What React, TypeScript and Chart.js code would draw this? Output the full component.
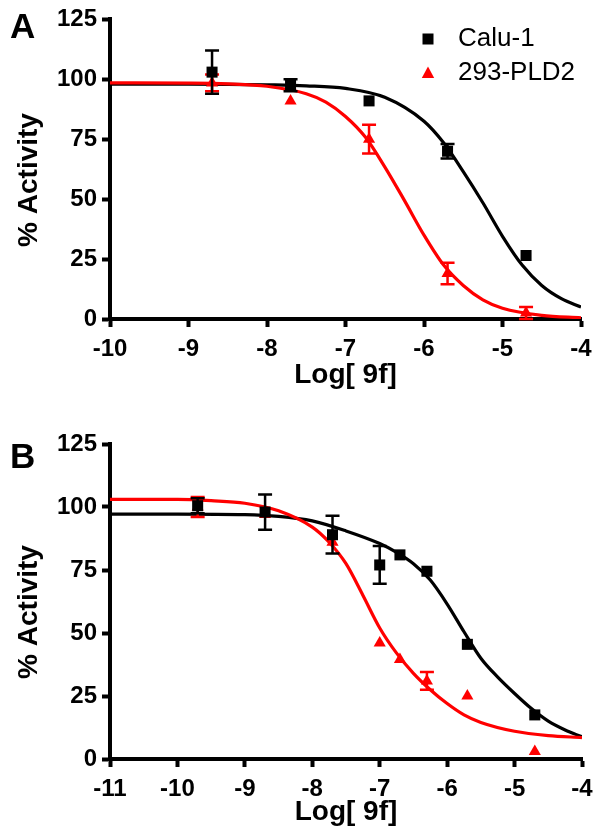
import React, { useEffect, useRef } from 'react';
import { Chart, registerables } from 'chart.js';

Chart.register(...registerables);

const FONT = '"Liberation Sans", Arial, Helvetica, sans-serif';
const RED = 'rgb(255,0,0)';
const BLACK = '#000000';

// ---------- shared ----------
const seriesNames = ['Calu-1', '293-PLD2'];
const yTicks = [0, 25, 50, 75, 100, 125];
const xTitle = 'Log[ 9f]';
const yTitle = '% Activity';

// ---------- Panel A ----------
const aXTicks = [-10, -9, -8, -7, -6, -5, -4];
const aCaluX = [-8.7, -7.7, -6.7, -5.7, -4.7];
const aCaluY = [103, 97.5, 91, 70, 26.5];
const aCaluErr = [9, 2.5, 0, 3, 0];
const aPldX = [-8.7, -7.7, -6.7, -5.7, -4.7];
const aPldY = [98.5, 91, 75, 19, 2.5];
const aPldErr = [3.5, 0, 6, 4.5, 2.5];
const aCaluFitX = [-10, -9, -8.5, -8, -7.5, -7, -6.5, -6, -5.75, -5.5, -5.25, -5, -4.75, -4.5, -4.25, -4];
const aCaluFitY = [98, 98, 97.9, 97.7, 97.3, 96.2, 92.5, 82.5, 73.5, 61.5, 48.5, 34.5, 22.5, 14, 8.5, 5];
const aPldFitX = [-10, -9, -8.5, -8, -7.5, -7.25, -7, -6.75, -6.5, -6.25, -6, -5.75, -5.5, -5.25, -5, -4.5, -4];
const aPldFitY = [98.5, 98.4, 98.1, 97.1, 94, 90.5, 84.5, 76, 63.5, 49.5, 35, 22.5, 14, 8, 4.5, 1.5, 0.5];

// ---------- Panel B ----------
const bXTicks = [-11, -10, -9, -8, -7, -6, -5, -4];
const bCaluX = [-9.7, -8.7, -7.7, -7.0, -6.7, -6.3, -5.7, -4.7];
const bCaluY = [100.5, 98, 89, 77, 81, 74.5, 45.5, 17.5];
const bCaluErr = [3, 7, 7.5, 7.5, 0, 0, 0, 0];
const bPldX = [-9.7, -8.7, -7.7, -7.0, -6.7, -6.3, -5.7, -4.7];
const bPldY = [100, 97, 86, 46, 39.5, 31, 25, 3];
const bPldErr = [4, 0, 0, 0, 0, 3.5, 0, 0];
const bCaluFitX = [-11, -10, -9, -8.5, -8, -7.5, -7, -6.75, -6.5, -6.25, -6, -5.75, -5.5, -5.25, -5, -4.75, -4.5, -4.25, -4];
const bCaluFitY = [97.2, 97.2, 97, 96.3, 94.5, 90.5, 85.5, 82, 77.5, 71, 61.5, 50.5, 40, 32.5, 26, 20, 15, 11.5, 8.8];
const bPldFitX = [-11, -10, -9.5, -9, -8.5, -8, -7.75, -7.5, -7.25, -7, -6.75, -6.5, -6.25, -6, -5.75, -5.5, -5, -4.5, -4];
const bPldFitY = [103, 103, 102.5, 101.5, 98.5, 92, 86, 77.5, 65, 52, 42, 34, 27.5, 22, 17.5, 14.5, 11, 9.3, 8.5];

const zip = (xs: number[], ys: number[]) => xs.map((x, i) => ({ x, y: ys[i] }));

// error bars drawn right before each dataset so later markers cover them
const errorBarPlugin = {
  id: 'errorBars',
  beforeDatasetDraw(chart: any, args: any) {
    const ds: any = chart.data.datasets[args.index];
    const errs: number[] | undefined = ds.errors;
    if (!errs) return;
    const ctx = chart.ctx;
    const yScale = chart.scales.y;
    ctx.save();
    ctx.strokeStyle = ds.borderColor;
    ctx.lineWidth = 2.5;
    args.meta.data.forEach((pt: any, j: number) => {
      const e = errs[j];
      if (!e) return;
      const v = ds.data[j].y;
      const y1 = yScale.getPixelForValue(v + e);
      const y2 = yScale.getPixelForValue(Math.max(v - e, 0));
      const x = pt.x;
      ctx.beginPath();
      ctx.moveTo(x, y1);
      ctx.lineTo(x, y2);
      ctx.moveTo(x - 7, y1);
      ctx.lineTo(x + 7, y1);
      ctx.moveTo(x - 7, y2);
      ctx.lineTo(x + 7, y2);
      ctx.stroke();
    });
    ctx.restore();
  },
};

const legendPlugin = {
  id: 'figLegend',
  afterDraw(chart: any, _a: any, opts: any) {
    if (!opts || !opts.show) return;
    const ctx = chart.ctx;
    ctx.save();
    const items = chart.data.datasets.filter((d: any) => d.legendShape);
    items.forEach((d: any, i: number) => {
      const y = opts.y + i * opts.gap;
      const x = opts.x;
      ctx.fillStyle = d.backgroundColor;
      if (d.legendShape === 'rect') {
        ctx.fillRect(x - 5.5, y - 5.5, 11, 11);
      } else {
        ctx.beginPath();
        ctx.moveTo(x, y - 6.5);
        ctx.lineTo(x + 6.2, y + 5);
        ctx.lineTo(x - 6.2, y + 5);
        ctx.closePath();
        ctx.fill();
      }
      ctx.fillStyle = '#000';
      ctx.font = `26px ${FONT}`;
      ctx.textAlign = 'left';
      ctx.textBaseline = 'middle';
      ctx.fillText(d.label, opts.textX, y);
    });
    ctx.restore();
  },
};

const panelTextPlugin = {
  id: 'panelText',
  afterDraw(chart: any, _a: any, opts: any) {
    const ctx = chart.ctx;
    ctx.save();
    ctx.fillStyle = '#000';
    ctx.font = `bold 35px ${FONT}`;
    ctx.textAlign = 'left';
    ctx.textBaseline = 'alphabetic';
    ctx.fillText(opts.letter, opts.letterX, opts.letterY);
    ctx.font = `bold 28px ${FONT}`;
    ctx.translate(opts.titleX, opts.titleY);
    ctx.rotate(-Math.PI / 2);
    ctx.textAlign = 'center';
    ctx.textBaseline = 'middle';
    ctx.fillText(opts.text, 0, 0);
    ctx.restore();
  },
};

type Panel = {
  xTicks: number[];
  caluX: number[]; caluY: number[]; caluErr: number[];
  pldX: number[]; pldY: number[]; pldErr: number[];
  caluFitX: number[]; caluFitY: number[];
  pldFitX: number[]; pldFitY: number[];
  letter: string; letterY: number; titleY: number;
  pad: { left: number; right: number; top: number; bottom: number };
  xHeight: number;
  legend: boolean;
};

function buildConfig(p: Panel): any {
  const tickFont = { family: FONT, size: 24, weight: 'bold' as const };
  return {
    type: 'scatter',
    data: {
      datasets: [
        {
          label: seriesNames[0], legendShape: 'rect',
          data: zip(p.caluX, p.caluY), errors: p.caluErr,
          pointStyle: 'rect', pointRadius: 7.8, pointHoverRadius: 7.8,
          backgroundColor: BLACK, borderColor: BLACK, borderWidth: 0, clip: false,
        },
        {
          label: seriesNames[1], legendShape: 'triangle',
          data: zip(p.pldX, p.pldY), errors: p.pldErr,
          pointStyle: 'triangle', pointRadius: 7, pointHoverRadius: 7,
          backgroundColor: RED, borderColor: RED, borderWidth: 0, clip: false,
        },
        {
          label: seriesNames[1] + ' fit',
          data: zip(p.pldFitX, p.pldFitY), showLine: true, pointRadius: 0,
          borderColor: RED, backgroundColor: RED, borderWidth: 3.2,
          cubicInterpolationMode: 'monotone',
        },
        {
          label: seriesNames[0] + ' fit',
          data: zip(p.caluFitX, p.caluFitY), showLine: true, pointRadius: 0,
          borderColor: BLACK, backgroundColor: BLACK, borderWidth: 3.2,
          cubicInterpolationMode: 'monotone',
        },
      ],
    },
    options: {
      responsive: false,
      animation: false,
      devicePixelRatio: 1,
      events: [],
      layout: { padding: p.pad },
      plugins: {
        legend: { display: false },
        tooltip: { enabled: false },
        figLegend: { show: p.legend, x: 428, textX: 458, y: 39, gap: 34 },
        panelText: { letter: p.letter, letterX: 10, letterY: p.letterY, text: yTitle, titleX: 29, titleY: p.titleY },
      },
      scales: {
        x: {
          type: 'linear',
          position: 'bottom',
          min: p.xTicks[0],
          max: p.xTicks[p.xTicks.length - 1],
          afterBuildTicks: (s: any) => { s.ticks = p.xTicks.map((v) => ({ value: v })); },
          afterFit: (s: any) => { s.height = p.xHeight; },
          grid: { drawOnChartArea: false, drawTicks: true, tickLength: 8, tickWidth: 4, tickColor: BLACK, color: BLACK },
          border: { display: true, color: BLACK, width: 4 },
          ticks: { color: BLACK, font: tickFont, padding: 8, maxRotation: 0, autoSkip: false },
          title: { display: true, text: xTitle, color: BLACK, font: { family: FONT, size: 28, weight: 'bold' }, padding: { top: 0, bottom: 5 } },
        },
        y: {
          type: 'linear',
          position: 'left',
          min: yTicks[0],
          max: yTicks[yTicks.length - 1],
          afterBuildTicks: (s: any) => { s.ticks = yTicks.map((v) => ({ value: v })); },
          afterFit: (s: any) => { s.width = 110; },
          grid: { drawOnChartArea: false, drawTicks: true, tickLength: 8, tickWidth: 4, tickColor: BLACK, color: BLACK },
          border: { display: true, color: BLACK, width: 4 },
          ticks: { color: BLACK, font: tickFont, padding: 5 },
        },
      },
    },
    plugins: [errorBarPlugin, legendPlugin, panelTextPlugin],
  };
}

const panelA: Panel = {
  xTicks: aXTicks,
  caluX: aCaluX, caluY: aCaluY, caluErr: aCaluErr,
  pldX: aPldX, pldY: aPldY, pldErr: aPldErr,
  caluFitX: aCaluFitX, caluFitY: aCaluFitY,
  pldFitX: aPldFitX, pldFitY: aPldFitY,
  letter: 'A', letterY: 38, titleY: 180,
  pad: { left: 0, right: 21, top: 15, bottom: 23 },
  xHeight: 78,
  legend: true,
};

const panelB: Panel = {
  xTicks: bXTicks,
  caluX: bCaluX, caluY: bCaluY, caluErr: bCaluErr,
  pldX: bPldX, pldY: bPldY, pldErr: bPldErr,
  caluFitX: bCaluFitX, caluFitY: bCaluFitY,
  pldFitX: bPldFitX, pldFitY: bPldFitY,
  letter: 'B', letterY: 48, titleY: 192,
  pad: { left: 0, right: 20, top: 24, bottom: 6 },
  xHeight: 75,
  legend: false,
};

export default function App() {
  const refA = useRef<HTMLCanvasElement | null>(null);
  const refB = useRef<HTMLCanvasElement | null>(null);
  useEffect(() => {
    const a = new Chart(refA.current as HTMLCanvasElement, buildConfig(panelA));
    const b = new Chart(refB.current as HTMLCanvasElement, buildConfig(panelB));
    return () => {
      a.destroy();
      b.destroy();
    };
  }, []);
  return (
    <div style={{ position: 'absolute', left: 0, top: 0, width: 602, height: 840, background: '#fff' }}>
      <canvas ref={refA} width={602} height={420} style={{ position: 'absolute', left: 0, top: 0, width: 602, height: 420 }} />
      <canvas ref={refB} width={602} height={420} style={{ position: 'absolute', left: 0, top: 420, width: 602, height: 420 }} />
    </div>
  );
}
